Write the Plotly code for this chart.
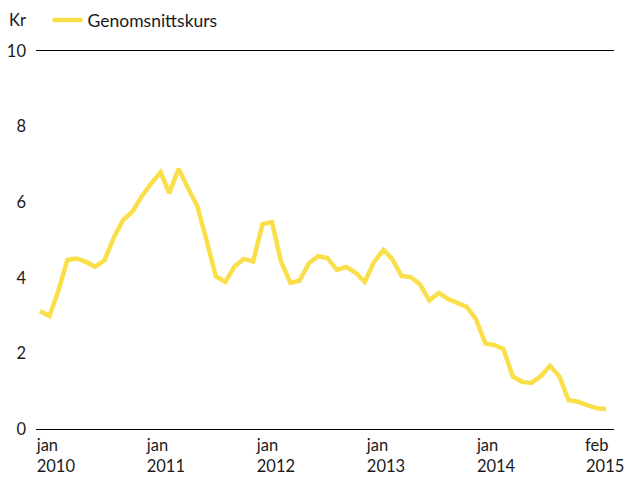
import plotly.graph_objects as go
import pandas as pd

# Monthly dates, jan 2010 - feb 2015
months = pd.date_range("2010-01-01", "2015-02-01", freq="MS")

# Genomsnittskurs (Kr)
genomsnittskurs = [
    3.12, 2.99, 3.62, 4.47, 4.51, 4.42, 4.29, 4.47, 5.08, 5.53, 5.76, 6.16,
    6.50, 6.79, 6.24, 6.88, 6.38, 5.90, 5.00, 4.04, 3.89, 4.30, 4.50, 4.43,
    5.42, 5.47, 4.45, 3.87, 3.92, 4.38, 4.57, 4.52, 4.21, 4.29, 4.14, 3.89,
    4.42, 4.74, 4.50, 4.05, 4.02, 3.82, 3.40, 3.60, 3.44, 3.33, 3.23, 2.91,
    2.26, 2.22, 2.12, 1.39, 1.25, 1.22, 1.39, 1.67, 1.39, 0.76, 0.72, 0.63,
    0.55, 0.53,
]

series_name = "Genomsnittskurs"
y_unit = "Kr"

# x tick labels and the dates they are placed at
tick_dates = ["2010-02-22", "2011-02-18", "2012-02-14", "2013-02-09", "2014-02-05", "2015-01-29"]
tick_months = ["jan", "jan", "jan", "jan", "jan", "feb"]
tick_years = ["2010", "2011", "2012", "2013", "2014", "2015"]
PAD = "\u00a0" * 4
tick_texts = [f"{m}{PAD}<br>{y}" for m, y in zip(tick_months, tick_years)]

y_ticks = [0, 2, 4, 6, 8, 10]

FONT = "Lato"
TXT = "#1a1a1a"
FS = 16.5

fig = go.Figure()
fig.add_trace(go.Scatter(
    x=months, y=genomsnittskurs, mode="lines", name=series_name,
    line=dict(color="#FADF4A", width=4.5),
))

fig.update_layout(
    width=625, height=477,
    margin=dict(l=36, r=11, t=51, b=48, autoexpand=False),
    paper_bgcolor="white", plot_bgcolor="white",
    font=dict(family=FONT, size=FS, color=TXT),
    showlegend=True,
    legend=dict(orientation="h", x=0.02, xanchor="left", y=1.082, yanchor="middle",
                font=dict(size=17.5, color=TXT), bgcolor="rgba(0,0,0,0)"),
    xaxis=dict(
        type="date", range=["2009-12-19", "2015-02-27"],
        tickvals=tick_dates, ticktext=tick_texts,
        showgrid=False, zeroline=False,
        showline=True, mirror=True, linecolor="#000", linewidth=1.3,
        ticks="", ticklabelstandoff=1, ticklabeloverflow="allow",
        tickfont=dict(size=FS, color=TXT),
    ),
    yaxis=dict(
        range=[0, 10], tickvals=y_ticks,
        showgrid=False, zeroline=False, showline=False,
        ticks="", ticklabelstandoff=9,
        tickfont=dict(size=FS, color=TXT),
    ),
    annotations=[dict(text=y_unit, xref="paper", yref="paper", x=-0.05, y=1.082,
                      xanchor="left", yanchor="middle", showarrow=False,
                      font=dict(size=FS, color=TXT))],
)

fig.write_html("out.html")
